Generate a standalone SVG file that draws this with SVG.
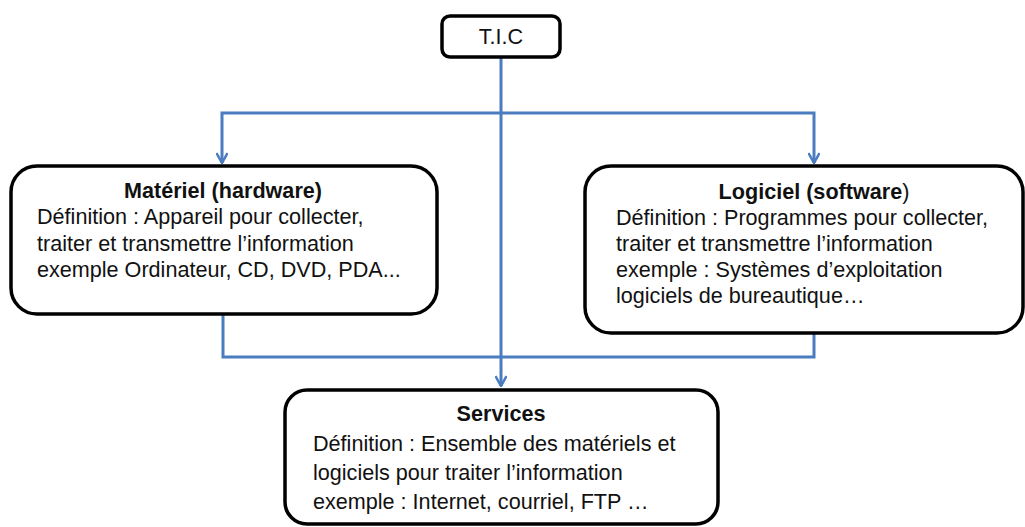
<svg xmlns="http://www.w3.org/2000/svg" width="1025" height="527" viewBox="0 0 1025 527">
<style>
.box{fill:#fff;stroke:#000;stroke-width:3.5}
.t{font-family:"Liberation Sans",Arial,sans-serif;font-size:21.6px;fill:#111}
.b{font-weight:bold}
.c{stroke:#4a7dbf;stroke-width:3;fill:none}
</style>
<defs>
<marker id="ah" viewBox="0 0 12 12" refX="11" refY="6" markerWidth="12" markerHeight="12" markerUnits="userSpaceOnUse" orient="auto">
<path d="M1,0.5 L11,6 L1,11.5" fill="none" stroke="#4a7dbf" stroke-width="2.5"/>
</marker>
</defs>
<rect width="1025" height="527" fill="#fff"/>
<g id="connectors">
<path class="c" d="M501,57 V95" stroke-width="5"/>
<path class="c" d="M501,95 V386" marker-end="url(#ah)"/>
<path class="c" d="M501,113 H222 V163" marker-end="url(#ah)"/>
<path class="c" d="M501,113 H814 V163" marker-end="url(#ah)"/>
<path class="c" d="M223,314 V357 H814 V333"/>
</g>
<g id="tic">
<rect class="box" x="442" y="16" width="118" height="41" rx="8"/>
<text class="t" x="501" y="44" text-anchor="middle" font-size="17">T.I.C</text>
</g>
<g id="materiel">
<rect class="box" x="11" y="166" width="426" height="148" rx="26"/>
<text class="t b" x="223" y="198" text-anchor="middle">Matériel (hardware)</text>
<text class="t" x="37" y="224">Définition : Appareil pour collecter,</text>
<text class="t" x="37" y="251">traiter et transmettre l’information</text>
<text class="t" x="37" y="277">exemple Ordinateur, CD, DVD, PDA...</text>
</g>
<g id="logiciel">
<rect class="box" x="585" y="166" width="438" height="167" rx="26"/>
<text class="t" x="814" y="199" text-anchor="middle"><tspan class="b">Logiciel (software</tspan>)</text>
<text class="t" x="616" y="225">Définition : Programmes pour collecter,</text>
<text class="t" x="616" y="251">traiter et transmettre l’information</text>
<text class="t" x="616" y="277">exemple : Systèmes d’exploitation</text>
<text class="t" x="616" y="303">logiciels de bureautique…</text>
</g>
<g id="services">
<rect class="box" x="285" y="390" width="433" height="134" rx="22"/>
<text class="t b" x="501" y="421" text-anchor="middle">Services</text>
<text class="t" x="313" y="451">Définition : Ensemble des matériels et</text>
<text class="t" x="313" y="480">logiciels pour traiter l’information</text>
<text class="t" x="313" y="509">exemple : Internet, courriel, FTP …</text>
</g>
</svg>
